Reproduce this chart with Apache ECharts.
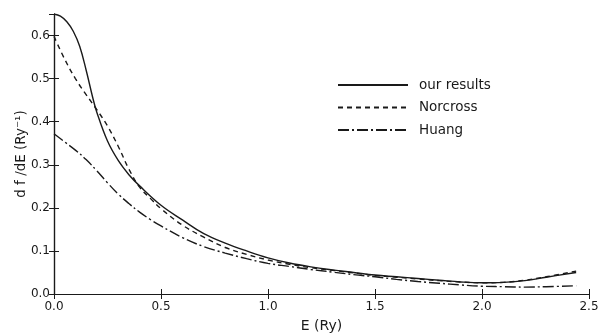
<!DOCTYPE html>
<html><head><meta charset="utf-8">
<script src="https://cdn.jsdelivr.net/npm/echarts@6/dist/echarts.min.js"></script>
<style>html,body{margin:0;padding:0;background:#fff}#c{width:599px;height:333px}</style>
</head><body><div id="c"></div>
<script>
const seriesNames = ["our results", "Norcross", "Huang"];
const xTicks = ["0.0", "0.5", "1.0", "1.5", "2.0", "2.5"];
const eOurs = [0, 0.03, 0.06, 0.09, 0.12, 0.15, 0.18, 0.2, 0.25, 0.3, 0.35, 0.4, 0.5, 0.6, 0.7, 0.8, 0.9, 1.0, 1.1, 1.2, 1.3, 1.4, 1.5, 1.6, 1.7, 1.8, 1.9, 2.0, 2.1, 2.2, 2.3, 2.44];
const fOurs = [0.65, 0.645, 0.632, 0.61, 0.575, 0.52, 0.458, 0.422, 0.355, 0.31, 0.277, 0.251, 0.206, 0.172, 0.14, 0.118, 0.1, 0.084, 0.072, 0.063, 0.056, 0.05, 0.044, 0.04, 0.036, 0.032, 0.028, 0.026, 0.027, 0.031, 0.039, 0.05];
const eNorcross = [0, 0.05, 0.1, 0.15, 0.2, 0.25, 0.3, 0.35, 0.4, 0.45, 0.5, 0.6, 0.7, 0.8, 0.9, 1.0, 1.1, 1.2, 1.3, 1.4, 1.5, 1.6, 1.7, 1.8, 1.9, 2.0, 2.1, 2.2, 2.3, 2.44];
const fNorcross = [0.598, 0.545, 0.5, 0.463, 0.428, 0.39, 0.343, 0.29, 0.248, 0.222, 0.198, 0.16, 0.132, 0.108, 0.092, 0.079, 0.069, 0.061, 0.055, 0.049, 0.043, 0.039, 0.035, 0.031, 0.028, 0.026, 0.027, 0.032, 0.04, 0.053];
const eHuang = [0, 0.05, 0.1, 0.15, 0.2, 0.25, 0.3, 0.35, 0.4, 0.45, 0.5, 0.6, 0.7, 0.8, 0.9, 1.0, 1.1, 1.2, 1.3, 1.4, 1.5, 1.6, 1.7, 1.8, 1.9, 2.0, 2.1, 2.2, 2.3, 2.44];
const fHuang = [0.372, 0.353, 0.334, 0.312, 0.286, 0.258, 0.232, 0.21, 0.19, 0.173, 0.158, 0.131, 0.11, 0.095, 0.082, 0.071, 0.064, 0.057, 0.051, 0.045, 0.04, 0.034, 0.029, 0.025, 0.021, 0.018, 0.017, 0.016, 0.017, 0.019];

const ink = '#1a1a1a';
const font = 'DejaVu Sans';
const pairs = (xs, ys) => xs.map((x, i) => [x, ys[i]]);

const chart = echarts.init(document.getElementById('c'), null, {renderer: 'canvas'});
const hiddenAxis = {
  axisLine: {show: true, lineStyle: {color: ink, width: 1.2}},
  axisTick: {show: true, inside: true, length: 5, lineStyle: {color: ink}},
  axisLabel: {show: false}, splitLine: {show: false}
};
chart.setOption({
  animation: false,
  backgroundColor: '#fff',
  grid: {left: 54, right: 10, top: 14, bottom: 39, containLabel: false, outerBoundsMode: 'none'},
  legend: {
    left: 332, top: 73, orient: 'vertical', itemWidth: 70, itemHeight: 14, itemGap: 8.5,
    itemStyle: {opacity: 0},
    textStyle: {fontFamily: font, fontSize: 13.5, color: ink, padding: [0, 0, 0, 6]},
    data: seriesNames
  },
  xAxis: [{
    type: 'value', min: 0, max: 2.5, interval: 0.5, position: 'bottom',
    name: 'E (Ry)', nameLocation: 'middle', nameGap: 25, nameMoveOverlap: false,
    nameTextStyle: {fontFamily: font, fontSize: 14, color: ink},
    axisLine: {show: true, lineStyle: {color: ink, width: 1.2}},
    axisTick: {show: true, inside: true, length: 5, lineStyle: {color: ink}},
    axisLabel: {fontFamily: font, fontSize: 12, color: ink, margin: 7,
      formatter: (v) => xTicks[Math.round(v / 0.5)]},
    splitLine: {show: false}
  }, Object.assign({type: 'value', min: 0, max: 2.5, interval: 0.5, position: 'top'}, hiddenAxis)],
  yAxis: [{
    type: 'value', min: 0, max: 0.65, interval: 0.1, position: 'left',
    name: 'd f /dE (Ry⁻¹)', nameLocation: 'middle', nameGap: 26, nameMoveOverlap: false,
    nameTextStyle: {fontFamily: font, fontSize: 13.5, color: ink},
    axisLine: {show: true, lineStyle: {color: ink, width: 1.2}},
    axisTick: {show: true, inside: true, length: 5, lineStyle: {color: ink}},
    axisLabel: {fontFamily: font, fontSize: 12, color: ink, margin: 4,
      formatter: (v) => v.toFixed(1), showMaxLabel: false},
    splitLine: {show: false}
  }, Object.assign({type: 'value', min: 0, max: 0.65, interval: 0.1, position: 'right'}, hiddenAxis)],
  series: [
    {name: seriesNames[0], type: 'line', data: pairs(eOurs, fOurs), smooth: 0.4, symbol: 'none',
      lineStyle: {color: ink, width: 1.4, type: 'solid'}, itemStyle: {color: ink}},
    {name: seriesNames[1], type: 'line', data: pairs(eNorcross, fNorcross), smooth: 0.4, symbol: 'none',
      lineStyle: {color: ink, width: 1.4, type: [5, 4]}, itemStyle: {color: ink}},
    {name: seriesNames[2], type: 'line', data: pairs(eHuang, fHuang), smooth: 0.4, symbol: 'none',
      lineStyle: {color: ink, width: 1.4, type: [11, 3, 2, 3]}, itemStyle: {color: ink}}
  ]
});
</script></body></html>
